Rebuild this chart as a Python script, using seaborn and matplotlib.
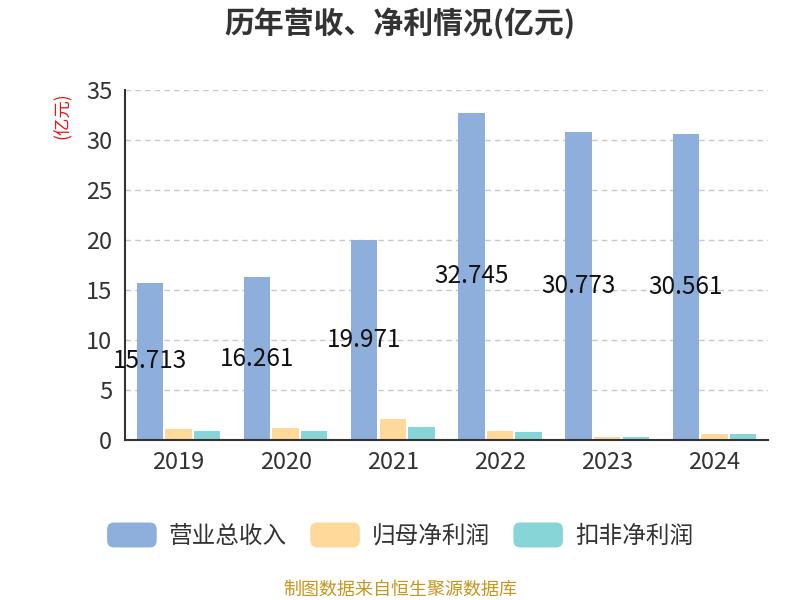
import pandas as pd
import numpy as np
import matplotlib
matplotlib.use("Agg")
import matplotlib.pyplot as plt
import seaborn as sns
from matplotlib.patches import FancyBboxPatch
from matplotlib.legend_handler import HandlerPatch

# Data
years = ['2019', '2020', '2021', '2022', '2023', '2024']
revenue = [15.713, 16.261, 19.971, 32.745, 30.773, 30.561]
net_profit = [1.1, 1.2, 2.1, 0.9, 0.33, 0.63]
deducted_profit = [0.9, 0.9, 1.33, 0.8, 0.33, 0.6]
series_names = ['营业总收入', '归母净利润', '扣非净利润']
colors = ['#8eaedb', '#ffd99a', '#88d5d8']

df = pd.DataFrame({
    'year': years * 3,
    'value': revenue + net_profit + deducted_profit,
    'series': [s for s in series_names for _ in years],
})

sns.set_style('white')
plt.rcParams['font.family'] = ['Noto Sans CJK SC', 'DejaVu Sans']

fig = plt.figure(figsize=(8, 6), dpi=100)
ax = fig.add_axes([0.156, 0.2667, 0.804, 0.5833])

sns.barplot(data=df, x='year', y='value', hue='series', palette=colors,
            width=0.8, gap=0.08, ax=ax, legend=False, saturation=1,
            edgecolor='none')

ax.set_ylim(0, 35)
ax.set_xlim(-0.5, len(years) - 0.5)
ax.set_yticks(range(0, 36, 5))
ax.yaxis.grid(True, linestyle=(0, (4, 3)), color='#c8c8c8', linewidth=1)
ax.set_axisbelow(True)
ax.set_xlabel('')
ax.set_ylabel('')

for s in ['top', 'right']:
    ax.spines[s].set_visible(False)
for s in ['left', 'bottom']:
    ax.spines[s].set_color('#333333')
    ax.spines[s].set_linewidth(1.5)

ax.tick_params(axis='y', length=8, color='#cccccc', labelsize=17, labelcolor='#333333', pad=1)
ax.tick_params(axis='x', which='major', length=0, labelsize=17, labelcolor='#333333', pad=8)
ax.set_xticks(np.arange(-0.5, len(years), 1), minor=True)
ax.tick_params(axis='x', which='minor', length=7, width=1.5, color='#333333')

# value labels on revenue bars
for i, v in enumerate(revenue):
    ax.text(i - 0.2667, v / 2, f'{v:.3f}', ha='center', va='center',
            fontsize=17.5, color='#111111')

fig.text(0.5, 0.962, '历年营收、净利情况(亿元)', ha='center', va='center',
         fontsize=21.5, fontweight='bold', color='#333333')
fig.text(0.078, 0.808, '(亿元)', ha='center', va='center', rotation=90,
         fontsize=12.5, color='#ee1111')
fig.text(0.5, 0.017, '制图数据来自恒生聚源数据库', ha='center', va='center',
         fontsize=13, color='#c8961e')


class RoundHandler(HandlerPatch):
    def create_artists(self, legend, orig_handle, xdescent, ydescent,
                       width, height, fontsize, trans):
        p = FancyBboxPatch((-xdescent, -ydescent), width, height,
                           boxstyle='round,pad=0,rounding_size=5',
                           facecolor=orig_handle.get_facecolor(),
                           edgecolor='none', transform=trans)
        return [p]


handles = [plt.Rectangle((0, 0), 1, 1, facecolor=c) for c in colors]
fig.legend(handles, series_names, loc='center', bbox_to_anchor=(0.5, 0.108),
           ncol=3, frameon=False, fontsize=17, handlelength=2.1,
           handleheight=1.25, columnspacing=1.0, handletextpad=0.5,
           labelcolor='#333333',
           handler_map={plt.Rectangle: RoundHandler()})

fig.savefig('out.png', dpi=100)
